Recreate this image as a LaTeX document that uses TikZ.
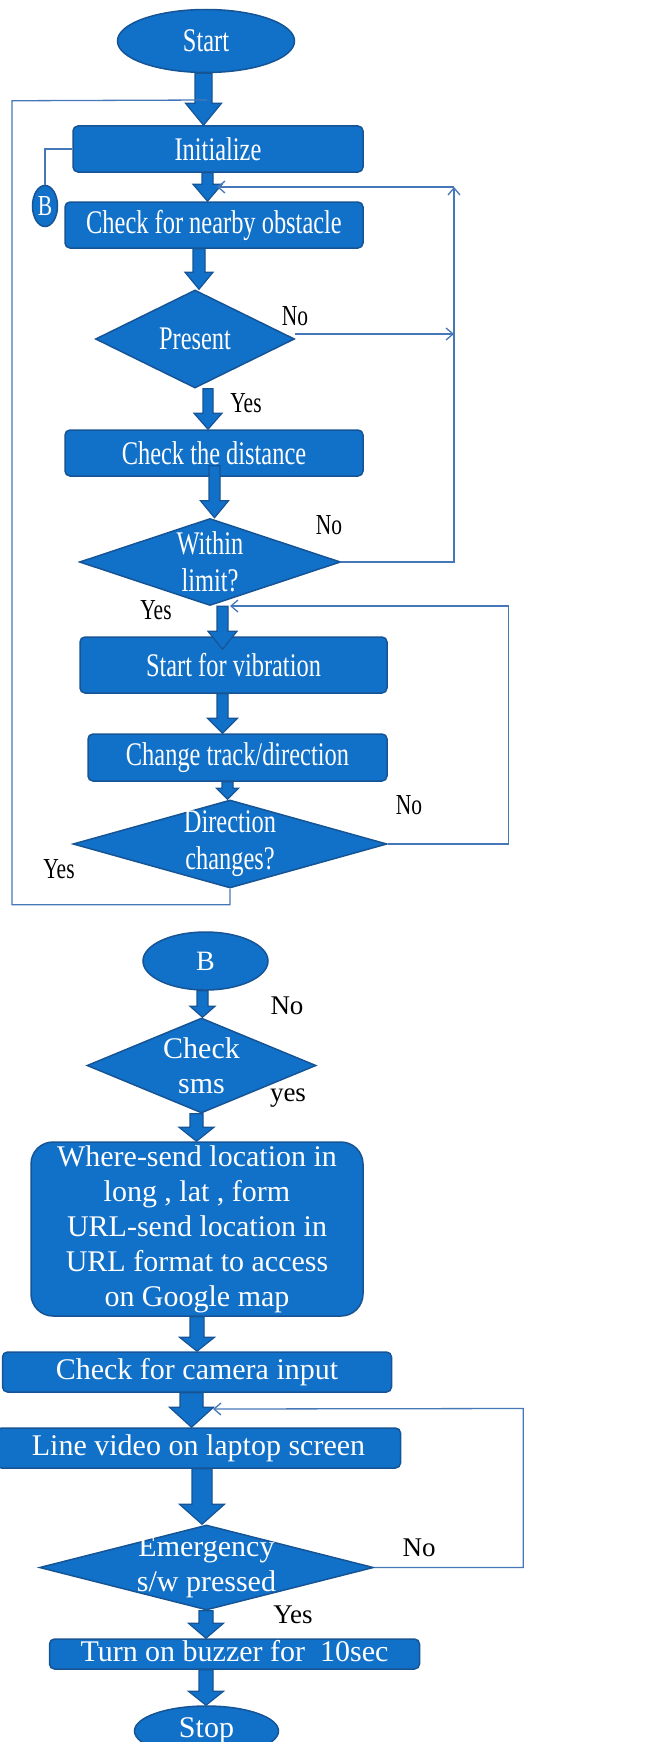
\documentclass[tikz,border=0pt]{standalone}
\usepackage{fontspec}
\setmainfont{Liberation Serif}
\newfontfamily\narrowfont[FakeStretch=0.74]{Liberation Serif}
\usetikzlibrary{shapes.geometric,arrows.meta,calc}

\definecolor{boxfill}{RGB}{17,112,200}
\definecolor{boxline}{RGB}{22,84,150}
\definecolor{flowline}{RGB}{70,120,185}

\tikzset{
  arrshaft/.code={\def\sw{#1}},
  arrhead/.code={\def\hw{#1}},
  arrtip/.code={\def\hl{#1}},
  fat arrow/.style={fill=boxfill, draw=boxline, line width=1.2pt, line join=miter,
    arrshaft=12pt, arrhead=30pt, arrtip=16pt}
}

% block arrow pointing down: shaft at x=#2, from #3 to #4
\newcommand{\fatarrow}[4][]{%
  \path[fat arrow,#1] let \p1=#3, \p2=#4 in
    (#2pt-\sw/2,\y1) -- (#2pt+\sw/2,\y1) -- (#2pt+\sw/2,\y2+\hl)
    -- (#2pt+\hw/2,\y2+\hl) -- (#2pt,\y2) -- (#2pt-\hw/2,\y2+\hl)
    -- (#2pt-\sw/2,\y2+\hl) -- cycle;}

\begin{document}
\begin{tikzpicture}[
    x=1pt, y=-1pt,
    > = {Straight Barb[length=7pt,width=12pt]}, % thin arrow head
    node distance = 100pt,
    process/.style={rectangle, rounded corners=5pt, draw=boxline, fill=boxfill,
      line width=1.5pt, text=white, inner sep=0pt,
      font=\narrowfont\fontsize{33}{37}\selectfont},
    decision/.style={diamond, aspect=3, draw=boxline, fill=boxfill,
      line width=1.5pt, text=white, inner sep=-20pt, align=center,
      font=\narrowfont\fontsize{33}{37}\selectfont},
    terminal/.style={ellipse, draw=boxline, fill=boxfill, line width=1.5pt,
      text=white, inner sep=0pt, font=\narrowfont\fontsize{33}{37}\selectfont},
    lower/.style={font=\fontsize{30}{35}\selectfont},
    answer/.style={text=black, inner sep=0pt, font=\narrowfont\fontsize{29}{31}\selectfont},
    lower answer/.style={answer, font=\fontsize{27}{29}\selectfont},
    flow line/.style={draw=flowline, line width=1.3pt}
  ]
  \useasboundingbox (0,0) rectangle (652,1742);

  % Nodes, upper chart
  \node[terminal, minimum width=177pt, minimum height=63pt] (start) at (206,41) {Start};
  \node[process, below of=start, node distance=108pt, xshift=12pt,
    minimum width=290pt, minimum height=46pt] (init) {Initialize};
  \node[terminal, minimum width=25pt, minimum height=41pt,
    font=\narrowfont\fontsize{29}{31}\selectfont] (bjump) at (45,206) {B};
  \node[process, below of=init, node distance=76pt, xshift=-4pt,
    minimum width=298pt, minimum height=46pt] (obstacle) {Check for nearby obstacle};
  \node[decision, below of=obstacle, node distance=114pt, xshift=-19pt,
    minimum width=199pt, minimum height=98pt] (present) {Present};
  \node[process, below of=present, node distance=114pt, xshift=19pt,
    minimum width=298pt, minimum height=46pt] (distance) {Check the distance};
  \node[decision, below of=distance, node distance=109pt, xshift=-4pt,
    minimum width=261pt, minimum height=87pt] (limit) {Within\\limit?};
  \node[process, below of=limit, node distance=103pt, xshift=23.5pt,
    minimum width=307pt, minimum height=56pt] (vibrate) {Start for vibration};
  \node[process, below of=vibrate, node distance=92.5pt, xshift=4pt,
    minimum width=299pt, minimum height=47pt] (track) {Change track/direction};
  \node[decision, below of=track, node distance=86.5pt, xshift=-7.5pt,
    minimum width=314pt, minimum height=88pt] (changed) {Direction\\changes?};

  % Nodes, lower chart
  \node[terminal, below of=changed, node distance=117pt, xshift=-24.5pt,
    minimum width=125pt, minimum height=58pt, font=\fontsize{28}{30}\selectfont] (bstart) {B};
  \node[decision, lower, below of=bstart, node distance=104.5pt, xshift=-4pt,
    minimum width=229pt, minimum height=95pt] (sms) {Check\\sms};
  \node[process, lower, below of=sms, node distance=163.5pt, xshift=-4.5pt,
    rounded corners=22pt, minimum width=332pt, minimum height=174pt, align=center]
    (location) {Where-send location in\\long , lat , form\\URL-send location in\\URL format to access\\on Google map};
  \node[process, lower, below of=location, node distance=143pt,
    minimum width=389pt, minimum height=40pt] (camera) {Check for camera input};
  \node[process, lower, below of=camera, node distance=76pt, xshift=1.5pt,
    minimum width=404pt, minimum height=40pt] (video) {Line video on laptop screen};
  \node[decision, lower, below of=video, node distance=119.5pt, xshift=8pt,
    minimum width=334pt, minimum height=85pt] (emergency) {Emergency\\s/w pressed};
  \node[process, lower, below of=emergency, node distance=86.5pt, xshift=28pt,
    minimum width=370pt, minimum height=30pt, text height=19pt, text depth=5pt]
    (buzzer) {Turn on buzzer for\ \ 10sec};
  \node[terminal, lower, below of=buzzer, node distance=77pt, xshift=-28pt,
    minimum width=144pt, minimum height=50pt] (stop) {Stop};

  % Block arrows
  \fatarrow[arrshaft=17pt, arrhead=36pt, arrtip=22pt]{203.5}{(start.south)}{(init.north)}
  \fatarrow[arrshaft=11pt, arrhead=29pt, arrtip=17pt]{207.5}{(init.south)}{(obstacle.north)}
  \fatarrow[arrhead=28pt, arrtip=17pt]{199}{(obstacle.south)}{(present.north)}
  \fatarrow[arrshaft=10pt, arrhead=28pt]{208}{(present.south)}{(distance.north)}
  \fatarrow[arrshaft=11pt, arrhead=28pt, arrtip=17pt]{214.5}{([yshift=11pt]distance.south)}{(limit.north)}
  \fatarrow[arrshaft=11pt, arrhead=29pt, arrtip=18pt]{222.5}{(limit.south)}{([yshift=-13pt]vibrate.north)}
  \fatarrow[arrshaft=11pt, arrtip=15pt]{222.5}{(vibrate.south)}{(track.north)}
  \fatarrow[arrshaft=11pt, arrhead=22pt, arrtip=11pt]{227.5}{(track.south)}{(changed.north)}
  \fatarrow[arrshaft=11pt, arrhead=25pt, arrtip=11pt]{202.5}{(bstart.south)}{(sms.north)}
  \fatarrow[arrshaft=13pt, arrhead=35pt, arrtip=14pt]{196.5}{(sms.south)}{(location.north)}
  \fatarrow[arrshaft=14pt, arrhead=35pt, arrtip=14pt]{197}{(location.south)}{(camera.north)}
  \fatarrow[arrshaft=23pt, arrhead=44pt, arrtip=20pt]{191.5}{(camera.south)}{(video.north)}
  \fatarrow[arrshaft=20pt, arrhead=45pt, arrtip=20pt]{202}{(video.south)}{(emergency.north)}
  \fatarrow[arrshaft=14pt, arrhead=35pt, arrtip=15pt]{206}{(emergency.south)}{(buzzer.north)}
  \fatarrow[arrshaft=14pt, arrhead=35pt, arrtip=14pt]{206}{(buzzer.south)}{(stop.north)}

  % Loop lines
  \coordinate (loopin) at (207,100);
  \coordinate (noturn) at (454,187);
  \coordinate (scanin) at (217,187);
  \coordinate (vibin) at (230,606);
  \coordinate (videoin) at (213,1409);

  \draw[flow line] (changed.south) -- ++(0,16) -| ++(-218,-804) -- (loopin);
  \draw[flow line] (init.west) -| (bjump.north);
  \draw[flow line,->] (limit.east) -| (noturn);
  \draw[flow line,->] (noturn) -- (scanin);
  \draw[flow line,->] ([yshift=5pt]present.east) coordinate (presout) -- (presout -| noturn);
  \draw[flow line,->] (changed.east) -| ++(121,-238) -- (vibin);
  \draw[flow line,->] (emergency.east) -| ++(149,-159) -- (videoin);

  % Answers
  \node[answer] (presno) at (295,316) {No};
  \node[answer] (presyes) at (246,403) {Yes};
  \node[answer] (limitno) at (329,525) {No};
  \node[answer] (limityes) at (156,610) {Yes};
  \node[answer] (changeno) at (409,805) {No};
  \node[answer] (changeyes) at (59,869) {Yes};
  \node[lower answer] (smsno) at (287,1006) {No};
  \node[lower answer] (smsyes) at (288,1098) {yes};
  \node[lower answer] (emergno) at (419,1548) {No};
  \node[lower answer] (emergyes) at (293,1615) {Yes};
\end{tikzpicture}
\end{document}
